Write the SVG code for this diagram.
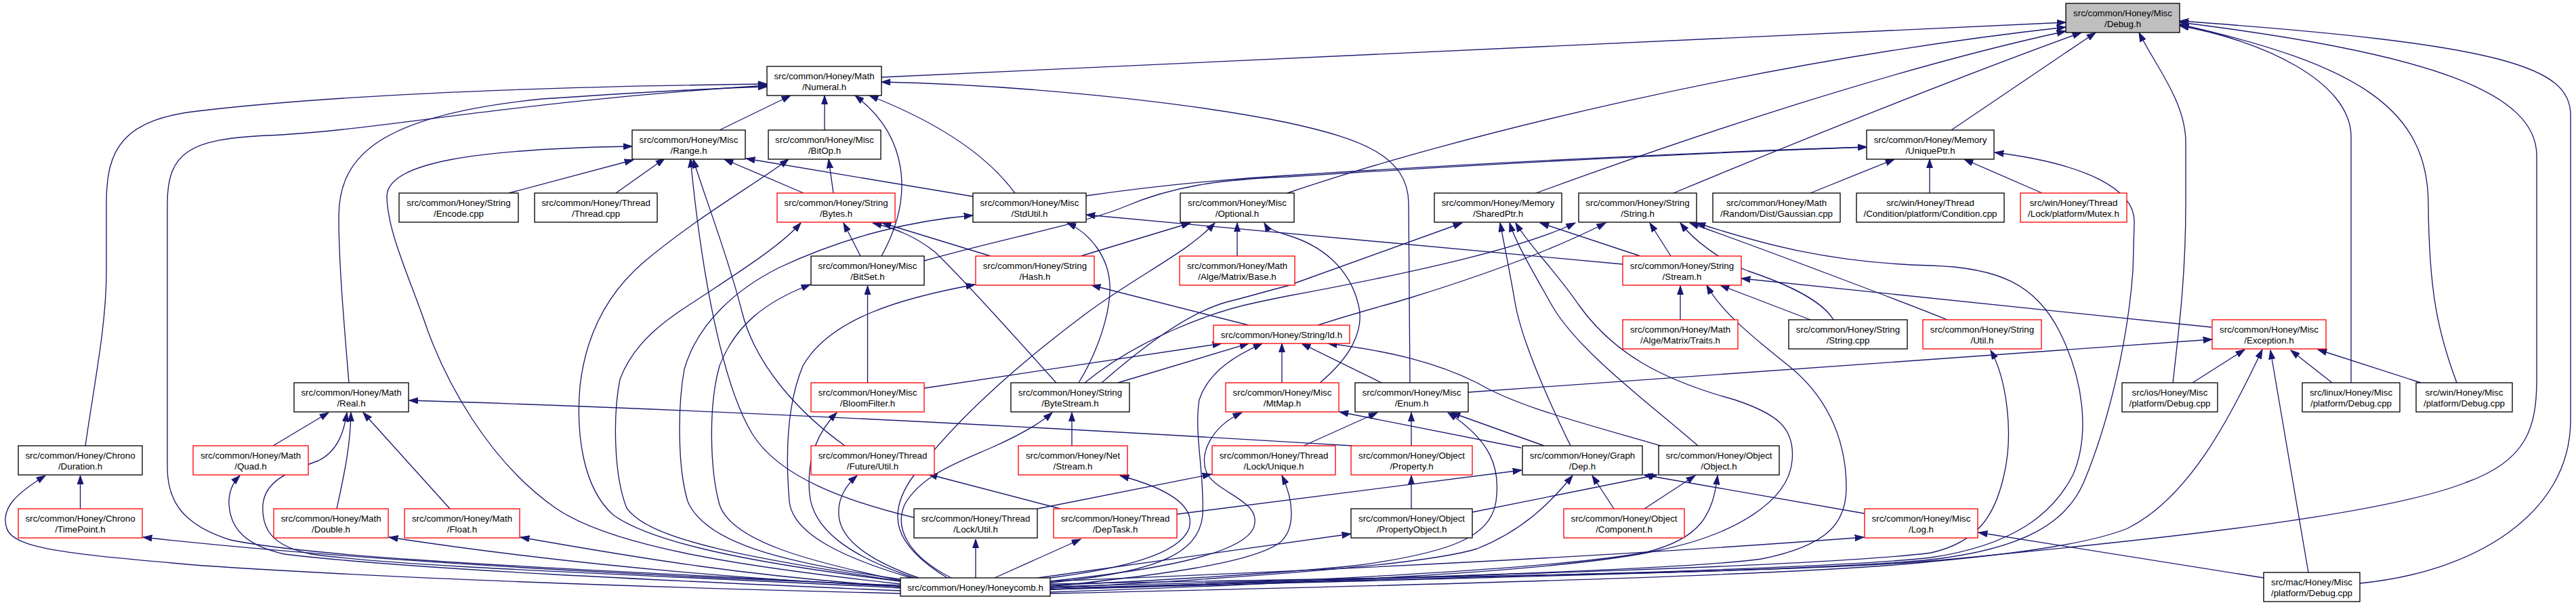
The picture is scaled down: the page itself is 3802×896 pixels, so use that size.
<svg xmlns="http://www.w3.org/2000/svg" width="3802" height="896" viewBox="0 0 3802 896">
<style>
.n rect{fill:#fff;stroke:#000;stroke-width:1.33}
.r rect{stroke:#f00}
.g rect{fill:#bfbfbf}
text{font-family:"Liberation Sans",Arial,Helvetica,sans-serif;font-size:13.33px;text-anchor:middle;fill:#000}
#edges path{fill:none;stroke:#191970;stroke-width:1.33;marker-end:url(#a)}
</style>
<defs>
<marker id="a" markerUnits="userSpaceOnUse" markerWidth="14" markerHeight="10" viewBox="0 0 14 10" refX="13.3" refY="5" orient="auto">
<path d="M0,0.4 L13.3,5 L0,9.6 Z" fill="#191970" stroke="#191970" stroke-width="1"/>
</marker>
</defs>
<rect width="3802" height="896" fill="#fff"/>
<g id="edges">
<path d="M1301,114 L3049,33"/>
<path d="M1900,285 C2150,200 2600,90 3049,40"/>
<path d="M2267,285 C2500,200 2800,100 3049,46"/>
<path d="M2470,285 C2650,210 2900,110 3072,48"/>
<path d="M2880,192 L3093,48"/>
<path d="M3207,565 C3218,470 3226,400 3226,300 L3226,210 C3226,150 3180,95 3157,48"/>
<path d="M3470,565 L3470,200 C3468,120 3340,60 3217,38"/>
<path d="M3626,565 C3598,490 3585,430 3584,300 C3583,160 3480,95 3217,36"/>
<path d="M1550,862 C2200,850 2650,845 2850,828 C3200,795 3520,760 3640,712 C3730,680 3744,630 3744,560 L3744,230 C3744,140 3600,80 3217,33"/>
<path d="M3483,861 C3650,845 3794,760 3794,620 L3794,170 C3794,100 3700,65 3217,31"/>
<path d="M1062,192 L1167,141"/>
<path d="M1217,192 L1217,141"/>
<path d="M1301,378 C1350,290 1340,200 1262,141"/>
<path d="M1498,285 C1450,220 1370,175 1283,141"/>
<path d="M2081,565 L2079,300 C2078,230 2010,205 1900,181 C1750,150 1500,125 1301,121"/>
<path d="M126,658 C140,560 157,480 157,400 L157,300 C157,220 180,175 300,163 C500,140 800,128 1132,124"/>
<path d="M515,565 C508,480 500,390 500,320 C500,230 560,170 800,146 C950,136 1050,130 1132,128"/>
<path d="M1329,866 C1000,845 500,830 340,797 C270,775 247,740 247,690 L247,300 C247,225 280,205 394,200 C560,193 750,150 1132,126"/>
<path d="M1329,862 C1080,835 900,805 820,750 C720,680 655,560 625,470 C600,400 572,340 571,290 C571,240 700,220 933,216"/>
<path d="M751,285 L935,236"/>
<path d="M909,285 L981,234"/>
<path d="M1349,764 C1250,740 1150,705 1110,640 C1065,565 1035,400 1019,234"/>
<path d="M1247,658 C1180,610 1115,540 1095,460 C1075,380 1040,290 1023,235"/>
<path d="M1186,285 L1069,235"/>
<path d="M1436,290 L1101,234"/>
<path d="M1329,858 C1100,830 960,800 905,760 C860,720 850,640 856,570 C865,490 900,430 950,387 C1030,320 1110,275 1164,235"/>
<path d="M1230,285 L1223,235"/>
<path d="M1603,289 C1700,275 1800,265 1900,259 C2200,240 2500,225 2755,217"/>
<path d="M1364,385 C1480,352 1600,330 1660,305 C1730,275 1800,265 1900,261 C2200,242 2500,226 2755,217"/>
<path d="M2672,285 L2796,235"/>
<path d="M2848,285 L2848,235"/>
<path d="M3014,285 L2899,235"/>
<path d="M1550,870 C2200,852 2700,842 2850,826 C2990,810 3050,770 3075,713 C3110,630 3140,510 3148,400 L3150,330 C3153,280 3080,242 2944,225"/>
<path d="M1329,858 C1120,825 960,800 925,750 C905,700 905,610 915,560 C935,505 985,470 1025,445 C1085,405 1150,365 1182,329"/>
<path d="M1270,378 L1245,329"/>
<path d="M1462,378 L1302,329"/>
<path d="M1559,565 C1500,500 1430,420 1380,372 C1350,348 1320,337 1288,329"/>
<path d="M1329,855 C1150,830 1040,800 1015,740 C1000,690 1000,600 1010,545 C1030,475 1090,425 1150,395 C1250,348 1350,325 1436,318"/>
<path d="M1592,565 C1620,520 1640,460 1638,420 C1636,380 1610,345 1575,329"/>
<path d="M2395,390 L1603,317"/>
<path d="M1595,378 L1757,329"/>
<path d="M1398,853 C1320,805 1305,760 1350,700 C1410,620 1500,540 1600,465 C1680,405 1750,375 1793,329"/>
<path d="M1826,378 L1826,329"/>
<path d="M1948,565 C1990,530 2015,490 2005,450 C1992,395 1950,362 1900,347 C1882,342 1870,336 1866,329"/>
<path d="M1626,565 C1700,500 1760,460 1810,446 C1850,436 1875,428 1900,422 L2158,329"/>
<path d="M1601,565 C1680,500 1790,460 1852,447 C1870,443 1885,440 1900,437 C2100,400 2250,365 2325,329"/>
<path d="M2318,658 C2280,580 2245,500 2236,446 C2229,405 2220,360 2214,329"/>
<path d="M2506,658 C2440,600 2330,520 2290,450 C2262,400 2238,360 2228,329"/>
<path d="M1550,874 C1900,862 2300,845 2445,813 C2560,790 2640,740 2645,680 C2650,630 2620,610 2560,590 C2450,560 2380,520 2330,450 C2300,405 2255,360 2237,329"/>
<path d="M2421,378 L2273,329"/>
<path d="M1945,480 C2000,462 2040,452 2080,440 C2200,403 2300,365 2370,329"/>
<path d="M2466,378 L2435,329"/>
<path d="M2706,472 C2690,445 2640,420 2580,400 C2540,385 2500,355 2480,329"/>
<path d="M2874,472 C2840,458 2650,385 2494,329"/>
<path d="M1550,868 C2200,852 2700,840 2850,823 C2970,805 3030,760 3060,700 C3085,640 3075,560 3040,490 C3005,420 2950,395 2850,392 C2700,388 2600,360 2504,329"/>
<path d="M1280.5,565 L1280.5,422"/>
<path d="M1329,857 C1200,830 1080,800 1062,745 C1048,695 1045,600 1062,540 C1085,480 1130,445 1196,420"/>
<path d="M1345,853 C1250,825 1170,790 1165,740 C1160,680 1160,600 1185,540 C1225,470 1330,440 1439,420"/>
<path d="M1843,480 L1611,421"/>
<path d="M2480,472 L2480,422"/>
<path d="M1550,870 C2000,855 2480,842 2600,825 C2700,805 2725,770 2725,720 C2725,640 2690,580 2640,540 C2590,500 2540,460 2519,421"/>
<path d="M2672,472 L2539,421"/>
<path d="M3264,483 L2570,411"/>
<path d="M1364,573 L1803,507"/>
<path d="M1650,565 L1843,507"/>
<path d="M1550,860 C1700,845 1770,820 1775,760 C1778,700 1762,640 1770,590 C1785,545 1830,522 1863,507"/>
<path d="M1892,565 L1892,507"/>
<path d="M2039,565 L1921,507"/>
<path d="M2451,658 C2320,620 2240,600 2180,565 C2120,535 2050,518 1960,507"/>
<path d="M2167,579 L3265,501"/>
<path d="M3236,565 L3313,516"/>
<path d="M1550,876 C2200,862 2700,846 2850,829 C3000,815 3090,800 3140,780 C3230,735 3290,620 3339,516"/>
<path d="M3407,845 L3351,517"/>
<path d="M3442,565 L3381,517"/>
<path d="M3573,565 L3421,516"/>
<path d="M1550,866 C2200,850 2700,835 2850,816 C2920,800 2945,760 2958,700 C2972,640 2962,560 2938,517"/>
<path d="M403,658 L485,609"/>
<path d="M1329,868 C1000,850 600,838 460,818 C400,806 386,780 388,745 C391,712 420,698 470,680 C500,665 508,635 512,609"/>
<path d="M497,751 C508,700 517,660 518,609"/>
<path d="M664,751 L536,609"/>
<path d="M1996,658 C1500,628 1000,603 604,591"/>
<path d="M1350,853 C1250,820 1200,780 1195,730 C1190,680 1205,640 1235,609"/>
<path d="M1404,853 C1340,820 1320,780 1335,745 C1360,700 1420,680 1465,660 C1510,640 1535,625 1553,609"/>
<path d="M1582,658 L1582,609"/>
<path d="M1550,858 C1700,842 1830,820 1850,780 C1865,740 1800,730 1782,700 C1768,670 1788,630 1833,609"/>
<path d="M2245,661 L1977,608"/>
<path d="M1924,658 L2033,609"/>
<path d="M2083,658 L2083,609"/>
<path d="M1550,864 C1750,855 1900,845 2000,835 C2150,815 2200,790 2208,740 C2215,690 2200,650 2137,609"/>
<path d="M2279,658 L2142,609"/>
<path d="M1329,876 C1000,868 600,855 300,835 C100,818 20,810 10,780 C0,750 25,728 67,702"/>
<path d="M118.5,751 L118.5,702"/>
<path d="M1329,872 C1000,858 600,840 420,818 C362,805 340,780 338,745 C337,725 344,712 354,702"/>
<path d="M1356,853 C1290,830 1240,800 1238,760 C1236,735 1250,715 1265,702"/>
<path d="M1565,751 L1370,700"/>
<path d="M1550,853 C1650,840 1740,820 1755,780 C1765,745 1720,720 1653,702"/>
<path d="M1531,751 L1788,700"/>
<path d="M1550,866 C1700,850 1850,832 1890,800 C1912,780 1910,740 1892,702"/>
<path d="M2083,751 L2083,702"/>
<path d="M1550,868 C1800,855 2100,835 2180,810 C2250,782 2290,740 2321,702"/>
<path d="M2382,751 L2350,702"/>
<path d="M1737,759 L2246,694"/>
<path d="M2173,756 L2446,701"/>
<path d="M2752,758 L2426,701"/>
<path d="M2427,751 L2502,702"/>
<path d="M1550,870 C1900,860 2300,840 2430,815 C2510,795 2528,760 2535,702"/>
<path d="M1329,864 C900,848 500,825 211,793"/>
<path d="M1329,866 C1100,855 850,835 574,793"/>
<path d="M1329,866 C1100,850 950,825 768,793"/>
<path d="M1440,853 L1440,796"/>
<path d="M1468,853 L1595,796"/>
<path d="M1532,853 L1994,788"/>
<path d="M1550,858 C2000,840 2400,820 2751,793"/>
<path d="M3341,853 L2920,786"/>
</g>
<g id="debug" class="n g"><rect x="3049" y="5" width="168" height="43"/><text x="3133" y="24.3">src/common/Honey/Misc</text><text x="3133" y="40">/Debug.h</text></g>
<g id="numeral" class="n"><rect x="1132" y="98" width="169" height="43"/><text x="1216.5" y="117.3">src/common/Honey/Math</text><text x="1216.5" y="133">/Numeral.h</text></g>
<g id="range" class="n"><rect x="933" y="192" width="167" height="43"/><text x="1016.5" y="211.3">src/common/Honey/Misc</text><text x="1016.5" y="227">/Range.h</text></g>
<g id="bitop" class="n"><rect x="1134" y="192" width="166" height="43"/><text x="1217" y="211.3">src/common/Honey/Misc</text><text x="1217" y="227">/BitOp.h</text></g>
<g id="uniqueptr" class="n"><rect x="2755" y="192" width="188" height="43"/><text x="2849" y="211.3">src/common/Honey/Memory</text><text x="2849" y="227">/UniquePtr.h</text></g>
<g id="encode" class="n"><rect x="589" y="285" width="176" height="43"/><text x="677" y="304.3">src/common/Honey/String</text><text x="677" y="320">/Encode.cpp</text></g>
<g id="threadcpp" class="n"><rect x="789" y="285" width="181" height="43"/><text x="879.5" y="304.3">src/common/Honey/Thread</text><text x="879.5" y="320">/Thread.cpp</text></g>
<g id="bytes" class="n r"><rect x="1147" y="285" width="174" height="43"/><text x="1234" y="304.3">src/common/Honey/String</text><text x="1234" y="320">/Bytes.h</text></g>
<g id="stdutil" class="n"><rect x="1436" y="285" width="167" height="43"/><text x="1519.5" y="304.3">src/common/Honey/Misc</text><text x="1519.5" y="320">/StdUtil.h</text></g>
<g id="optional" class="n"><rect x="1742" y="285" width="168" height="43"/><text x="1826" y="304.3">src/common/Honey/Misc</text><text x="1826" y="320">/Optional.h</text></g>
<g id="sharedptr" class="n"><rect x="2117" y="285" width="188" height="43"/><text x="2211" y="304.3">src/common/Honey/Memory</text><text x="2211" y="320">/SharedPtr.h</text></g>
<g id="string" class="n"><rect x="2330" y="285" width="174" height="43"/><text x="2417" y="304.3">src/common/Honey/String</text><text x="2417" y="320">/String.h</text></g>
<g id="gaussian" class="n"><rect x="2528" y="285" width="188" height="43"/><text x="2622" y="304.3">src/common/Honey/Math</text><text x="2622" y="320">/Random/Dist/Gaussian.cpp</text></g>
<g id="condition" class="n"><rect x="2740" y="285" width="218" height="43"/><text x="2849" y="304.3">src/win/Honey/Thread</text><text x="2849" y="320">/Condition/platform/Condition.cpp</text></g>
<g id="mutex" class="n r"><rect x="2982" y="285" width="157" height="43"/><text x="3060.5" y="304.3">src/win/Honey/Thread</text><text x="3060.5" y="320">/Lock/platform/Mutex.h</text></g>
<g id="bitset" class="n"><rect x="1197" y="378" width="167" height="43"/><text x="1280.5" y="397.3">src/common/Honey/Misc</text><text x="1280.5" y="413">/BitSet.h</text></g>
<g id="hash" class="n r"><rect x="1440" y="378" width="175" height="43"/><text x="1527.5" y="397.3">src/common/Honey/String</text><text x="1527.5" y="413">/Hash.h</text></g>
<g id="base" class="n r"><rect x="1741" y="378" width="170" height="43"/><text x="1826" y="397.3">src/common/Honey/Math</text><text x="1826" y="413">/Alge/Matrix/Base.h</text></g>
<g id="stream" class="n r"><rect x="2395" y="378" width="175" height="43"/><text x="2482.5" y="397.3">src/common/Honey/String</text><text x="2482.5" y="413">/Stream.h</text></g>
<g id="id" class="n r"><rect x="1791" y="480" width="201" height="27"/><text x="1891.5" y="499">src/common/Honey/String/Id.h</text></g>
<g id="traits" class="n r"><rect x="2395" y="472" width="170" height="43"/><text x="2480" y="491.3">src/common/Honey/Math</text><text x="2480" y="507">/Alge/Matrix/Traits.h</text></g>
<g id="stringcpp" class="n"><rect x="2640" y="472" width="175" height="43"/><text x="2727.5" y="491.3">src/common/Honey/String</text><text x="2727.5" y="507">/String.cpp</text></g>
<g id="util" class="n r"><rect x="2838" y="472" width="175" height="43"/><text x="2925.5" y="491.3">src/common/Honey/String</text><text x="2925.5" y="507">/Util.h</text></g>
<g id="exception" class="n r"><rect x="3265" y="472" width="168" height="43"/><text x="3349" y="491.3">src/common/Honey/Misc</text><text x="3349" y="507">/Exception.h</text></g>
<g id="real" class="n"><rect x="434" y="565" width="169" height="43"/><text x="518.5" y="584.3">src/common/Honey/Math</text><text x="518.5" y="600">/Real.h</text></g>
<g id="bloom" class="n r"><rect x="1197" y="565" width="167" height="43"/><text x="1280.5" y="584.3">src/common/Honey/Misc</text><text x="1280.5" y="600">/BloomFilter.h</text></g>
<g id="bytestream" class="n"><rect x="1492" y="565" width="175" height="43"/><text x="1579.5" y="584.3">src/common/Honey/String</text><text x="1579.5" y="600">/ByteStream.h</text></g>
<g id="mtmap" class="n r"><rect x="1809" y="565" width="167" height="43"/><text x="1892.5" y="584.3">src/common/Honey/Misc</text><text x="1892.5" y="600">/MtMap.h</text></g>
<g id="enum" class="n"><rect x="2000" y="565" width="167" height="43"/><text x="2083.5" y="584.3">src/common/Honey/Misc</text><text x="2083.5" y="600">/Enum.h</text></g>
<g id="ios" class="n"><rect x="3132" y="565" width="141" height="43"/><text x="3202.5" y="584.3">src/ios/Honey/Misc</text><text x="3202.5" y="600">/platform/Debug.cpp</text></g>
<g id="linux" class="n"><rect x="3398" y="565" width="144" height="43"/><text x="3470" y="584.3">src/linux/Honey/Misc</text><text x="3470" y="600">/platform/Debug.cpp</text></g>
<g id="win" class="n"><rect x="3566" y="565" width="142" height="43"/><text x="3637" y="584.3">src/win/Honey/Misc</text><text x="3637" y="600">/platform/Debug.cpp</text></g>
<g id="duration" class="n"><rect x="27" y="658" width="183" height="43"/><text x="118.5" y="677.3">src/common/Honey/Chrono</text><text x="118.5" y="693">/Duration.h</text></g>
<g id="quad" class="n r"><rect x="285" y="658" width="170" height="43"/><text x="370" y="677.3">src/common/Honey/Math</text><text x="370" y="693">/Quad.h</text></g>
<g id="futureutil" class="n r"><rect x="1197" y="658" width="182" height="43"/><text x="1288" y="677.3">src/common/Honey/Thread</text><text x="1288" y="693">/Future/Util.h</text></g>
<g id="netstream" class="n r"><rect x="1503" y="658" width="161" height="43"/><text x="1583.5" y="677.3">src/common/Honey/Net</text><text x="1583.5" y="693">/Stream.h</text></g>
<g id="lockunique" class="n r"><rect x="1789" y="658" width="182" height="43"/><text x="1880" y="677.3">src/common/Honey/Thread</text><text x="1880" y="693">/Lock/Unique.h</text></g>
<g id="property" class="n r"><rect x="1994" y="658" width="179" height="43"/><text x="2083.5" y="677.3">src/common/Honey/Object</text><text x="2083.5" y="693">/Property.h</text></g>
<g id="dep" class="n"><rect x="2247" y="658" width="177" height="43"/><text x="2335.5" y="677.3">src/common/Honey/Graph</text><text x="2335.5" y="693">/Dep.h</text></g>
<g id="object" class="n"><rect x="2448" y="658" width="178" height="43"/><text x="2537" y="677.3">src/common/Honey/Object</text><text x="2537" y="693">/Object.h</text></g>
<g id="timepoint" class="n r"><rect x="27" y="751" width="183" height="43"/><text x="118.5" y="770.3">src/common/Honey/Chrono</text><text x="118.5" y="786">/TimePoint.h</text></g>
<g id="double" class="n r"><rect x="404" y="751" width="169" height="43"/><text x="488.5" y="770.3">src/common/Honey/Math</text><text x="488.5" y="786">/Double.h</text></g>
<g id="float" class="n r"><rect x="597" y="751" width="170" height="43"/><text x="682" y="770.3">src/common/Honey/Math</text><text x="682" y="786">/Float.h</text></g>
<g id="lockutil" class="n"><rect x="1349" y="751" width="182" height="43"/><text x="1440" y="770.3">src/common/Honey/Thread</text><text x="1440" y="786">/Lock/Util.h</text></g>
<g id="deptask" class="n r"><rect x="1555" y="751" width="182" height="43"/><text x="1646" y="770.3">src/common/Honey/Thread</text><text x="1646" y="786">/DepTask.h</text></g>
<g id="propertyobject" class="n"><rect x="1994" y="751" width="179" height="43"/><text x="2083.5" y="770.3">src/common/Honey/Object</text><text x="2083.5" y="786">/PropertyObject.h</text></g>
<g id="component" class="n r"><rect x="2308" y="751" width="178" height="43"/><text x="2397" y="770.3">src/common/Honey/Object</text><text x="2397" y="786">/Component.h</text></g>
<g id="log" class="n r"><rect x="2752" y="751" width="167" height="43"/><text x="2835.5" y="770.3">src/common/Honey/Misc</text><text x="2835.5" y="786">/Log.h</text></g>
<g id="honeycomb" class="n"><rect x="1329" y="853" width="221" height="27"/><text x="1439.5" y="872">src/common/Honey/Honeycomb.h</text></g>
<g id="mac" class="n"><rect x="3341" y="845" width="142" height="43"/><text x="3412" y="864.3">src/mac/Honey/Misc</text><text x="3412" y="880">/platform/Debug.cpp</text></g>
</svg>
